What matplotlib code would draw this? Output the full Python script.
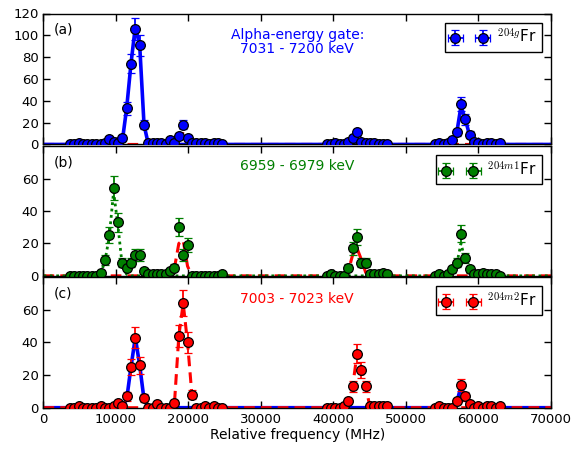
import numpy as np
import matplotlib.pyplot as plt

# scan frequencies (MHz), three scan regions
freq = [3670, 4270, 4870, 5470, 6070, 6670, 7270, 7870, 8470, 9070, 9670, 10270,
        10870, 11470, 12070, 12670, 13270, 13870, 14470, 15070, 15670, 16270, 16870, 17470,
        18070, 18670, 19270, 19870, 20470, 21070, 21670, 22270, 22870, 23470, 24070, 24670,
        39050, 39650, 40250, 40850, 41450, 42050, 42650, 43250, 43850, 44450, 45050, 45650, 46250, 46850, 47450,
        53990, 54590, 55190, 55790, 56390, 56990, 57590, 58190, 58790, 59390, 59990, 60590, 61190, 61790, 62390, 62990]

# counts per gate
counts_g = [0, 0, 1, 0, 0, 0, 0, 0, 1, 5, 2, 1,
            6, 33, 74, 106, 91, 18, 1, 1, 1, 1, 0, 4,
            1, 8, 18, 6, 1, 1, 1, 1, 0, 1, 1, 0,
            0, 0, 1, 0, 0, 2, 6, 11, 2, 1, 1, 1, 0, 0, 0,
            0, 1, 0, 1, 4, 11, 37, 23, 9, 2, 1, 0, 1, 1, 0, 1]
counts_m1 = [0, 0, 0, 0, 0, 0, 0, 2, 10, 25, 54, 33,
             8, 5, 8, 13, 13, 3, 1, 1, 1, 1, 1, 3,
             5, 30, 13, 19, 0, 0, 0, 0, 0, 0, 0, 1,
             0, 1, 0, 0, 0, 5, 17, 24, 8, 8, 1, 1, 1, 2, 1,
             0, 1, 0, 1, 4, 8, 26, 11, 4, 1, 1, 2, 1, 1, 1, 0]
counts_m2 = [0, 0, 1, 0, 0, 0, 0, 1, 0, 0, 1, 3,
             1, 7, 25, 43, 26, 6, 0, 0, 2, 0, 0, 0,
             3, 44, 64, 40, 8, 0, 0, 1, 0, 1, 0, 0,
             0, 0, 0, 0, 1, 4, 13, 33, 23, 13, 1, 1, 1, 1, 1,
             0, 1, 0, 0, 0, 4, 14, 7, 2, 0, 1, 0, 1, 1, 0, 1]

# fitted components at the scan frequencies
fit_a_g = [0, 0, 0, 0, 0, 0, 0, 0, 0, 0, 0, 0,
           3, 33, 74, 108, 91, 18, 0, 0, 0, 0, 0, 0,
           0, 0, 0, 0, 0, 0, 0, 0, 0, 0, 0, 0,
           0, 0, 0, 0, 0, 0, 0, 0, 0, 0, 0, 0, 0, 0, 0,
           0, 0, 0, 0, 3, 10, 35, 23, 8, 1, 0, 0, 0, 0, 0, 0]
fit_a_m2 = [0, 0, 0, 0, 0, 0, 0, 0, 0, 0, 0, 0,
            0, 0, 0, 0, 0, 0, 0, 0, 0, 0, 0, 0,
            0, 4, 10, 3, 0, 0, 0, 0, 0, 0, 0, 0,
            0, 0, 0, 0, 0, 0, 3, 6, 2, 0, 0, 0, 0, 0, 0,
            0, 0, 0, 0, 0, 0, 0, 0, 0, 0, 0, 0, 0, 0, 0, 0]
fit_b_m1 = [0, 0, 0, 0, 0, 0, 0, 1, 9, 24, 52, 31,
            6, 1, 0, 0, 0, 0, 0, 0, 0, 0, 0, 0,
            0, 0, 0, 0, 0, 0, 0, 0, 0, 0, 0, 0,
            0, 0, 0, 0, 0, 0, 0, 0, 0, 0, 0, 0, 0, 0, 0,
            0, 0, 0, 0, 2, 7, 20, 9, 2, 0, 0, 0, 0, 0, 0, 0]
fit_b_m2 = [0, 0, 0, 0, 0, 0, 0, 0, 0, 0, 0, 0,
            0, 0, 0, 0, 0, 0, 0, 0, 0, 0, 0, 0,
            5, 20, 22, 6, 0, 0, 0, 0, 0, 0, 0, 0,
            0, 0, 0, 0, 0, 3, 13, 17, 10, 2, 0, 0, 0, 0, 0,
            0, 0, 0, 0, 0, 0, 0, 0, 0, 0, 0, 0, 0, 0, 0, 0]
fit_c_g = [0, 0, 0, 0, 0, 0, 0, 0, 0, 0, 0, 0,
           1, 5, 25, 43, 26, 5, 0, 0, 0, 0, 0, 0,
           0, 0, 0, 0, 0, 0, 0, 0, 0, 0, 0, 0,
           0, 0, 0, 0, 0, 0, 0, 0, 0, 0, 0, 0, 0, 0, 0,
           0, 0, 0, 0, 0, 3, 13, 6, 1, 0, 0, 0, 0, 0, 0, 0]
fit_c_m2 = [0, 0, 0, 0, 0, 0, 0, 0, 0, 0, 0, 0,
            0, 0, 0, 0, 0, 0, 0, 0, 0, 0, 0, 0,
            3, 44, 64, 40, 8, 0, 0, 0, 0, 0, 0, 0,
            0, 0, 0, 0, 0, 4, 13, 33, 23, 13, 0, 0, 0, 0, 0,
            0, 0, 0, 0, 0, 0, 0, 0, 0, 0, 0, 0, 0, 0, 0, 0]

freq_err = 250
x_max = 70000

plt.rcParams['font.family'] = 'DejaVu Sans'
plt.rcParams['mathtext.fontset'] = 'cm'

blue, green, red = '#0000ff', '#007f00', '#ff0000'

fig = plt.figure(figsize=(5.86, 4.5), dpi=100)
ax_a = fig.add_axes([0.0742, 0.679, 0.866, 0.291])
ax_b = fig.add_axes([0.0742, 0.387, 0.866, 0.288])
ax_c = fig.add_axes([0.0742, 0.094, 0.866, 0.290])

fr = np.array(freq, dtype=float)
xfit = np.r_[0, fr, x_max]


def fitline(ax, y, color, style, lw, z):
    line, = ax.plot(xfit, np.r_[0, y, 0], color=color, lw=lw, zorder=z)
    if style == 'dashed':
        line.set_dashes((3.5, 2))
    elif style == 'dotted':
        line.set_dashes((1, 1.3))


def points(ax, counts, color, label):
    c = np.array(counts, dtype=float)
    ax.errorbar(fr, c, yerr=np.sqrt(c), xerr=freq_err, fmt='o', color=color,
                mfc=color, mec='k', ms=7, mew=0.9, ecolor=color,
                elinewidth=1.3, capsize=3, capthick=1.3, zorder=5, label=label)
    leg = ax.legend(loc='upper right', numpoints=2, fancybox=False, fontsize=11,
                    handlelength=2.4, borderpad=0.35, handletextpad=0.6,
                    borderaxespad=0.6, framealpha=1)
    leg.get_frame().set_edgecolor('k')
    leg.get_frame().set_linewidth(1.0)


# (a)
fitline(ax_a, fit_a_m2, red, 'dashed', 2.2, 1)
fitline(ax_a, fit_a_g, blue, 'solid', 2.6, 2)
points(ax_a, counts_g, blue, r'$^{204g}$Fr')
# (b)
fitline(ax_b, fit_b_m1, green, 'dotted', 2.0, 2)
fitline(ax_b, fit_b_m2, red, 'dashed', 2.2, 1)
points(ax_b, counts_m1, green, r'$^{204m1}$Fr')
# (c)
fitline(ax_c, fit_c_g, blue, 'solid', 2.6, 1)
fitline(ax_c, fit_c_m2, red, 'dashed', 2.2, 2)
points(ax_c, counts_m2, red, r'$^{204m2}$Fr')

ax_a.set_ylim(0, 120)
ax_a.set_yticks([0, 20, 40, 60, 80, 100, 120])
for ax in (ax_b, ax_c):
    ax.set_ylim(0, 80)
    ax.set_yticks([0, 20, 40, 60])

for ax, lab in zip((ax_a, ax_b, ax_c), ('(a)', '(b)', '(c)')):
    ax.set_xlim(0, x_max)
    ax.set_xticks(np.arange(0, 70001, 10000))
    ax.tick_params(direction='in', top=True, right=True, length=5, width=1,
                   labelsize=9.5)
    for s in ax.spines.values():
        s.set_linewidth(1.0)
    ax.text(0.021, 0.875, lab, transform=ax.transAxes, fontsize=10, va='center')
    if ax is not ax_c:
        ax.tick_params(labelbottom=False)

ax_a.text(0.5, 0.78, 'Alpha-energy gate:\n7031 - 7200 keV', transform=ax_a.transAxes,
          ha='center', va='center', color=blue, fontsize=10, linespacing=1.0)
ax_b.text(0.5, 0.847, '6959 - 6979 keV', transform=ax_b.transAxes,
          ha='center', va='center', color=green, fontsize=10)
ax_c.text(0.5, 0.832, '7003 - 7023 keV', transform=ax_c.transAxes,
          ha='center', va='center', color=red, fontsize=10)

ax_c.set_xlabel('Relative frequency (MHz)', fontsize=10, labelpad=2)

fig.savefig('out.png', dpi=100)
